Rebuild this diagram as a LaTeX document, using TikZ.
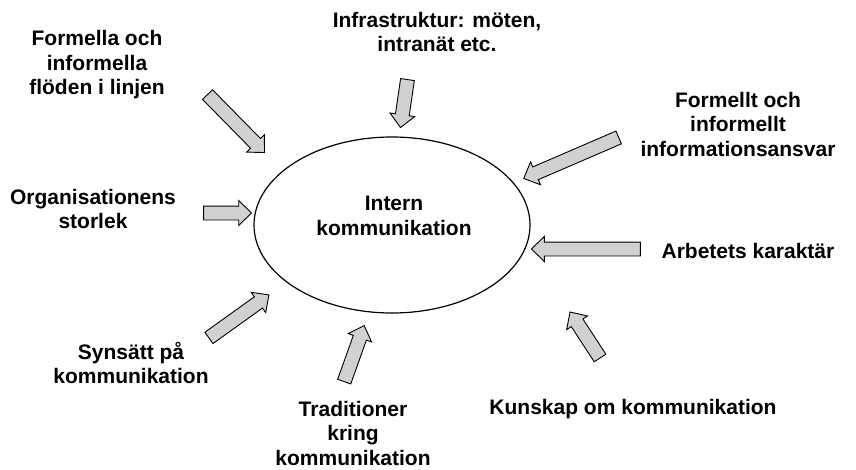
\documentclass[tikz,border=0pt]{standalone}
\usepackage{fontspec}
\setmainfont{Liberation Sans}
\usetikzlibrary{shapes.arrows,calc}
\tikzset{
  label/.style={align=center, inner sep=0pt,
    font=\fontsize{21}{24.5}\selectfont\bfseries},
  blockarrow/.style={single arrow, draw=black, line width=0.9pt,
    fill=black!18, inner xsep=0pt, inner ysep=6.5pt,
    single arrow head extend=5.5pt, single arrow tip angle=88,
    allow upside down},
}
\newcommand{\fatarrow}[2]{%
  \path let \p1=($(#2)-(#1)$), \n1={veclen(\x1,\y1)} in
    (#1) -- (#2) node[midway, sloped, blockarrow, minimum height=\n1] {};}

\begin{document}
\begin{tikzpicture}[x=1pt,y=-1pt]
  \useasboundingbox (0,0) rectangle (856,469);

  % Center
  \draw[line width=1.2pt] (392,225) ellipse [x radius=138, y radius=88];
  \node[label] (intern) at (394,216) {Intern\\kommunikation};

  % Labels
  \node[label] (floden) at (97,65) {Formella och\\informella\\flöden i linjen};
  \node[label] (infra) at (437,32) {Infrastruktur: möten,\\intranät etc.};
  \node[label] (ansvar) at (738,124) {Formellt och\\informellt\\informationsansvar};
  \node[label] (storlek) at (93,209) {Organisationens\\storlek};
  \node[label] (arbete) at (748,251) {Arbetets karaktär};
  \node[label] (synsatt) at (131,363) {Synsätt på\\kommunikation};
  \node[label] (trad) at (353,433) {Traditioner\\kring\\kommunikation};
  \node[label] (kunskap) at (633,409) {Kunskap om kommunikation};

  % Arrow ends
  \coordinate (floden-t) at (205,92);   \coordinate (floden-h) at (262,150);
  \coordinate (infra-t) at (408,76);    \coordinate (infra-h) at (401,124);
  \coordinate (ansvar-t) at (622,136);  \coordinate (ansvar-h) at (527,177);
  \coordinate (storlek-t) at (200,213); \coordinate (storlek-h) at (248,213);
  \coordinate (arbete-t) at (644,249);  \coordinate (arbete-h) at (535,249);
  \coordinate (synsatt-t) at (206,340); \coordinate (synsatt-h) at (266,297);
  \coordinate (trad-t) at (343,385);    \coordinate (trad-h) at (363,329);
  \coordinate (kunskap-t) at (602,361); \coordinate (kunskap-h) at (572,315);

  % Arrows
  \foreach \a in {floden,infra,ansvar,storlek,arbete,synsatt,trad,kunskap}{
    \fatarrow{\a-t}{\a-h}
  }
\end{tikzpicture}
\end{document}
